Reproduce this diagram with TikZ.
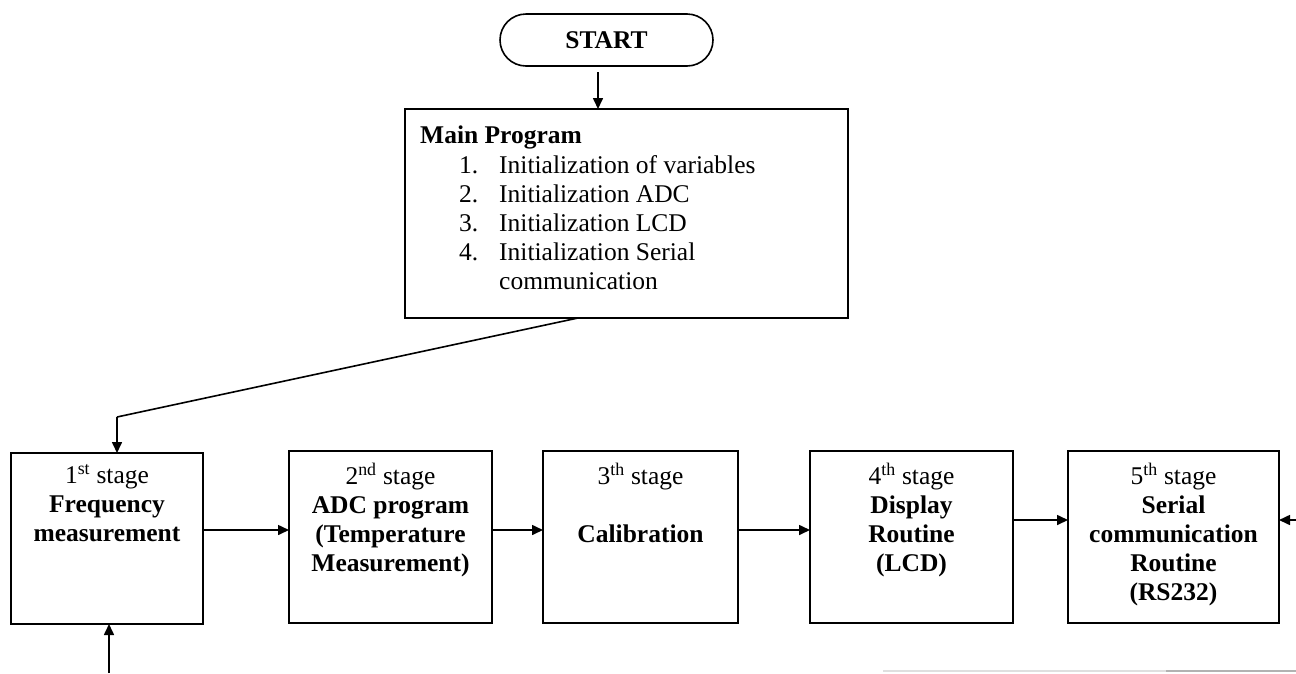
\documentclass[tikz,border=0pt]{standalone}
\usepackage{fontspec}
\setmainfont{Liberation Serif}
\usetikzlibrary{arrows.meta}

\begin{document}
\begin{tikzpicture}[x=1pt,y=-1pt,
  box/.style={draw, line width=1.7pt, inner sep=0pt, outer sep=0pt, anchor=north west},
  txt/.style={font=\fontsize{25.5}{29}\selectfont, align=center, inner sep=0pt, anchor=north},
  arr/.style={line width=1.6pt, -{Triangle[length=11pt,width=10pt]}},
]
\useasboundingbox (0,0) rectangle (1296,673);

% terminator
\node[draw, line width=1.6pt, rounded corners=26pt, minimum width=213pt,
      minimum height=52pt, inner sep=0pt, outer sep=0pt,
      font=\fontsize{25.5}{29}\selectfont\bfseries] (start) at (606.5,40) {START};

% main program block
\node[box, minimum width=443pt, minimum height=209pt] (main) at (405,109) {};
\node[anchor=north west, inner sep=0pt, align=left,
      font=\fontsize{25.5}{29}\selectfont] (maintxt) at (420,122.7)
  {\strut\textbf{Main Program}\\[1pt]
   \hspace*{39pt}\makebox[40pt][l]{1.}Initialization of variables\\
   \hspace*{39pt}\makebox[40pt][l]{2.}Initialization ADC\\
   \hspace*{39pt}\makebox[40pt][l]{3.}Initialization LCD\\
   \hspace*{39pt}\makebox[40pt][l]{4.}Initialization Serial\\
   \hspace*{79pt}communication};

% stage blocks
\node[box, minimum width=192pt, minimum height=171pt] (s1) at (11,453) {};
\node[box, minimum width=203pt, minimum height=172pt] (s2) at (289,451) {};
\node[box, minimum width=195pt, minimum height=172pt] (s3) at (543,451) {};
\node[box, minimum width=203pt, minimum height=172pt] (s4) at (810,451) {};
\node[box, minimum width=211pt, minimum height=172pt] (s5) at (1068,451) {};

\node[txt] (t1) at (107,462.7)
  {\strut 1\textsuperscript{st} stage\\ \textbf{Frequency}\\ \textbf{measurement}};
\node[txt] (t2) at (390.5,462.7)
  {\strut 2\textsuperscript{nd} stage\\ \textbf{ADC program}\\ \textbf{(Temperature}\\ \textbf{Measurement)}};
\node[txt] (t3) at (640.5,462.7)
  {\strut 3\textsuperscript{th} stage\\[29pt] \textbf{Calibration}};
\node[txt] (t4) at (911.5,462.7)
  {\strut 4\textsuperscript{th} stage\\ \textbf{Display}\\ \textbf{Routine}\\ \textbf{(LCD)}};
\node[txt] (t5) at (1173.5,462.7)
  {\strut 5\textsuperscript{th} stage\\ \textbf{Serial}\\ \textbf{communication}\\ \textbf{Routine}\\ \textbf{(RS232)}};

% connectors
\coordinate (drop) at ([xshift=-8.5pt]start.south);
\coordinate (bend) at (117,417);
\coordinate (inright) at (1296,520);
\coordinate (inbottom) at (109,673);

\draw[arr, shorten <=6pt] (drop) -- (drop |- main.north);
\draw[line width=1.6pt] ([xshift=-48.5pt]main.south) -- (bend);
\draw[arr] (bend) -- (bend |- s1.north);
\draw[arr] ([yshift=8.5pt]s1.east) -- ([yshift=7pt]s2.west);
\draw[arr] ([yshift=7pt]s2.east) -- ([yshift=7pt]s3.west);
\draw[arr] ([yshift=7pt]s3.east) -- ([yshift=7pt]s4.west);
\draw[arr] ([yshift=17pt]s4.east) -- ([yshift=17pt]s5.west);
\draw[arr] (inright) -- (inright -| s5.east);
\draw[arr] (inbottom) -- (inbottom |- s1.south);

% faint rule along the lower edge
\draw[gray!25, line width=2pt] (883,671) -- (1166,671);
\draw[gray!60, line width=2pt] (1166,671) -- (1296,671);
\end{tikzpicture}
\end{document}
